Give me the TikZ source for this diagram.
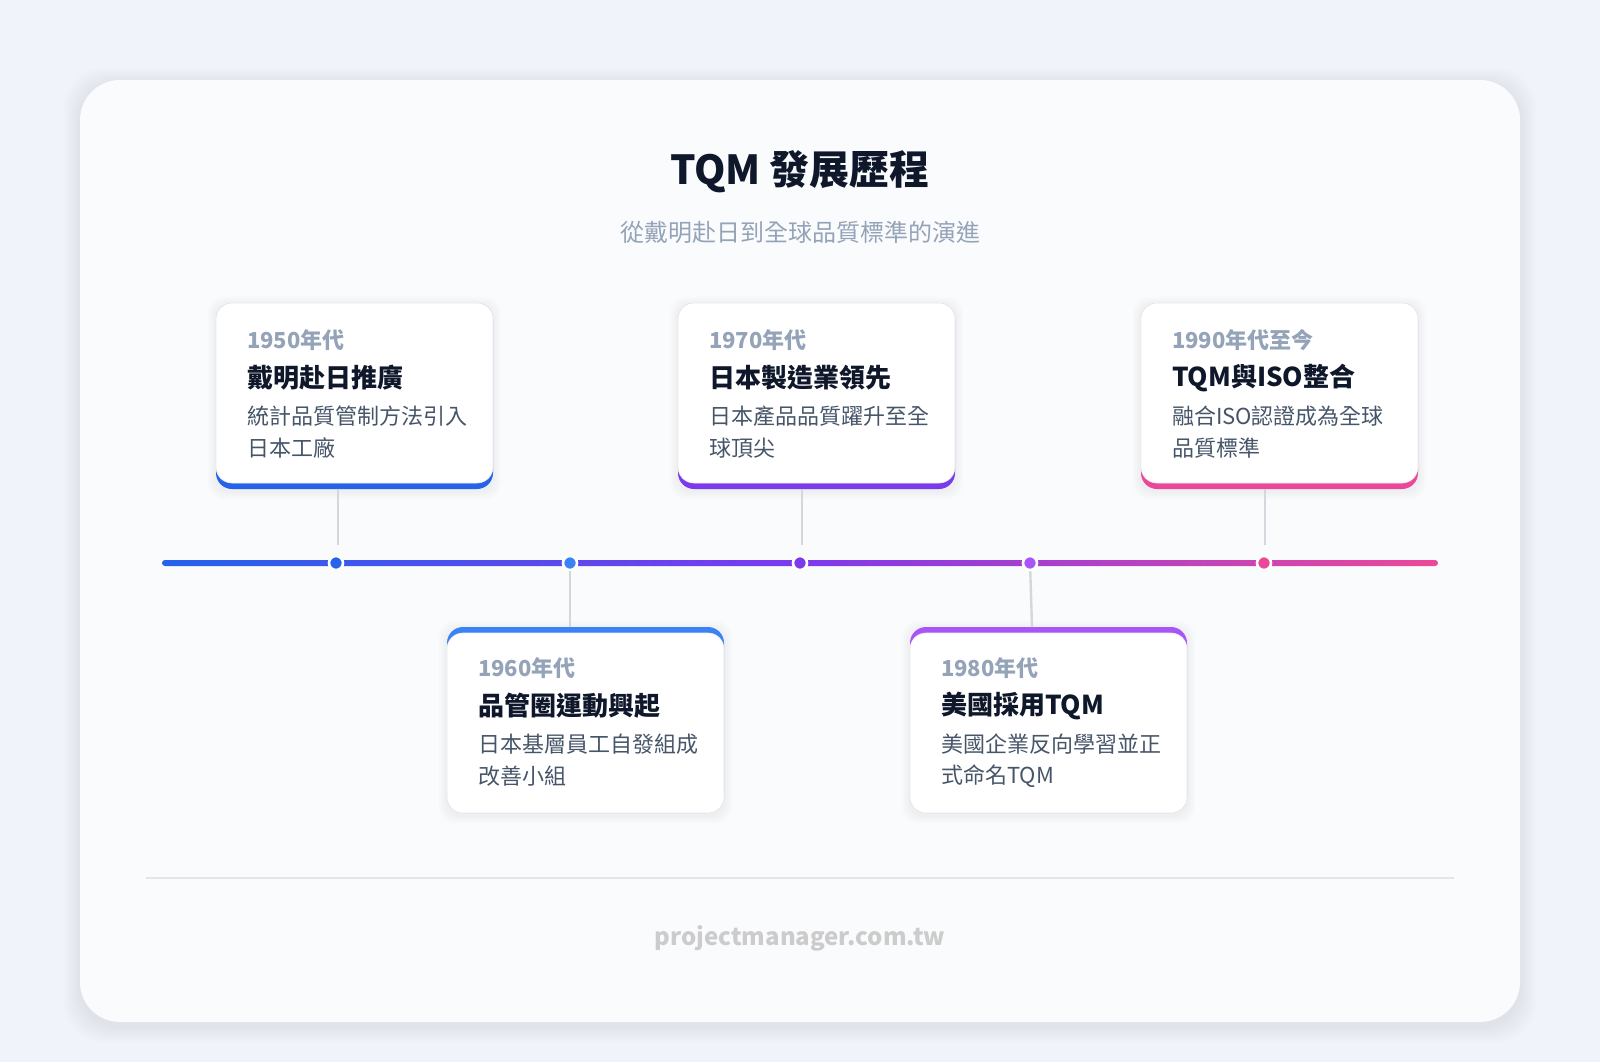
\documentclass[tikz,border=0pt]{standalone}
\usepackage{fontspec}
\setmainfont{Noto Sans CJK TC}
\definecolor{bgc}{HTML}{F1F3FB}
\definecolor{cardc}{HTML}{FAFBFD}
\definecolor{titc}{HTML}{0F172A}
\definecolor{subc}{HTML}{94A3B8}
\definecolor{descc}{HTML}{475569}
\definecolor{cA}{HTML}{2563EB}
\definecolor{cB}{HTML}{3B82F6}
\definecolor{cC}{HTML}{7C3AED}
\definecolor{cD}{HTML}{A855F7}
\definecolor{cE}{HTML}{EC4899}
\definecolor{linec}{HTML}{D4D8DE}
\begin{document}
\begin{tikzpicture}[x=0.5pt,y=-0.5pt,
  year/.style={anchor=west,text=subc,font=\fontsize{11}{13}\selectfont\bfseries},
  head/.style={anchor=west,text=titc,font=\fontsize{13}{15}\selectfont\bfseries},
  desc/.style={anchor=west,text=descc,font=\fontsize{11}{13}\selectfont},
  conn/.style={draw=linec,line width=1.2pt},
  dot/.style={circle,draw=white,line width=1.3pt,inner sep=0pt,minimum size=7pt}]
\useasboundingbox (0,0) rectangle (1600,1062);
\fill[bgc] (0,0) rectangle (1600,1062);
\foreach \s in {2,4,...,16}{
  \fill[black,opacity=0.006,rounded corners=20pt] (80-\s,84-\s) rectangle (1520+\s,1026+\s);}
\fill[cardc,rounded corners=20pt] (80,80) rectangle (1520,1022);
\node[text=titc,font=\fontsize{20}{24}\selectfont\bfseries] (title) at (800,172) {TQM 發展歷程};
\node[text=subc,font=\fontsize{12}{14}\selectfont] (sub) at (800,232) {從戴明赴日到全球品質標準的演進};
% timeline
\shade[left color=cA,right color=cE,middle color=cC,rounded corners=1.5pt] (162,560) rectangle (1438,566);
% cards
\foreach \x/\y/\c/\t in {216/303/cA/0,678/303/cC/0,1141/303/cE/0,447/627/cB/1,910/627/cD/1}{
  \foreach \s in {2,4,6,8}{
    \fill[black,opacity=0.012,rounded corners=8pt] (\x-\s,\y-\s+2) rectangle (\x+277+\s,\y+186+\s+2);}
  \fill[\c,rounded corners=8pt] (\x,\y) rectangle ++(277,186);
  \fill[white,rounded corners=8pt] (\x,\y+6*\t) rectangle ++(277,180);
  \draw[white!92!black,line width=0.3pt,rounded corners=8pt] (\x,\y+6*\t) rectangle ++(277,180);
}
% connectors
\coordinate (ta) at (338,489); \coordinate (tc) at (802,489); \coordinate (te) at (1265,489);
\coordinate (tb) at (570,627); \coordinate (td) at (1032,627);
\coordinate (ba) at (338,545); \coordinate (bc) at (802,545); \coordinate (be) at (1265,545);
\node[dot,fill=cA] (da) at (336,563) {};
\node[dot,fill=cB] (db) at (570,563) {};
\node[dot,fill=cC] (dc) at (800,563) {};
\node[dot,fill=cD] (dd) at (1030,563) {};
\node[dot,fill=cE] (de) at (1264,563) {};
\draw[conn] (ta) -- (ba); \draw[conn] (tc) -- (bc); \draw[conn] (te) -- (be);
\draw[conn] (tb) -- (db); \draw[conn] (td) -- (dd);
% texts
\node[year] (ya) at (240,340) {1950年代};
\node[head] (ha) at (240,378) {戴明赴日推廣};
\node[desc] (pa) at (240,416) {統計品質管制方法引入};
\node[desc] (qa) at (240,448) {日本工廠};
\node[year] (yc) at (702,340) {1970年代};
\node[head] (hc) at (702,378) {日本製造業領先};
\node[desc] (pc) at (702,416) {日本產品品質躍升至全};
\node[desc] (qc) at (702,448) {球頂尖};
\node[year] (ye) at (1165,340) {1990年代至今};
\node[head] (he) at (1165,378) {TQM與ISO整合};
\node[desc] (pe) at (1165,416) {融合ISO認證成為全球};
\node[desc] (qe) at (1165,448) {品質標準};
\node[year] (yb) at (471,668) {1960年代};
\node[head] (hb) at (471,706) {品管圈運動興起};
\node[desc] (pb) at (471,744) {日本基層員工自發組成};
\node[desc] (qb) at (471,776) {改善小組};
\node[year] (yd) at (934,668) {1980年代};
\node[head] (hd) at (934,706) {美國採用TQM};
\node[desc] (pd) at (934,744) {美國企業反向學習並正};
\node[desc] (qd) at (934,776) {式命名TQM};
% footer
\draw[draw=white!90!black,line width=0.6pt] (146,878) -- (1454,878);
\node[text=black!20,font=\fontsize{12}{14}\selectfont\bfseries] (foot) at (800,938) {projectmanager.com.tw};
\end{tikzpicture}
\end{document}
